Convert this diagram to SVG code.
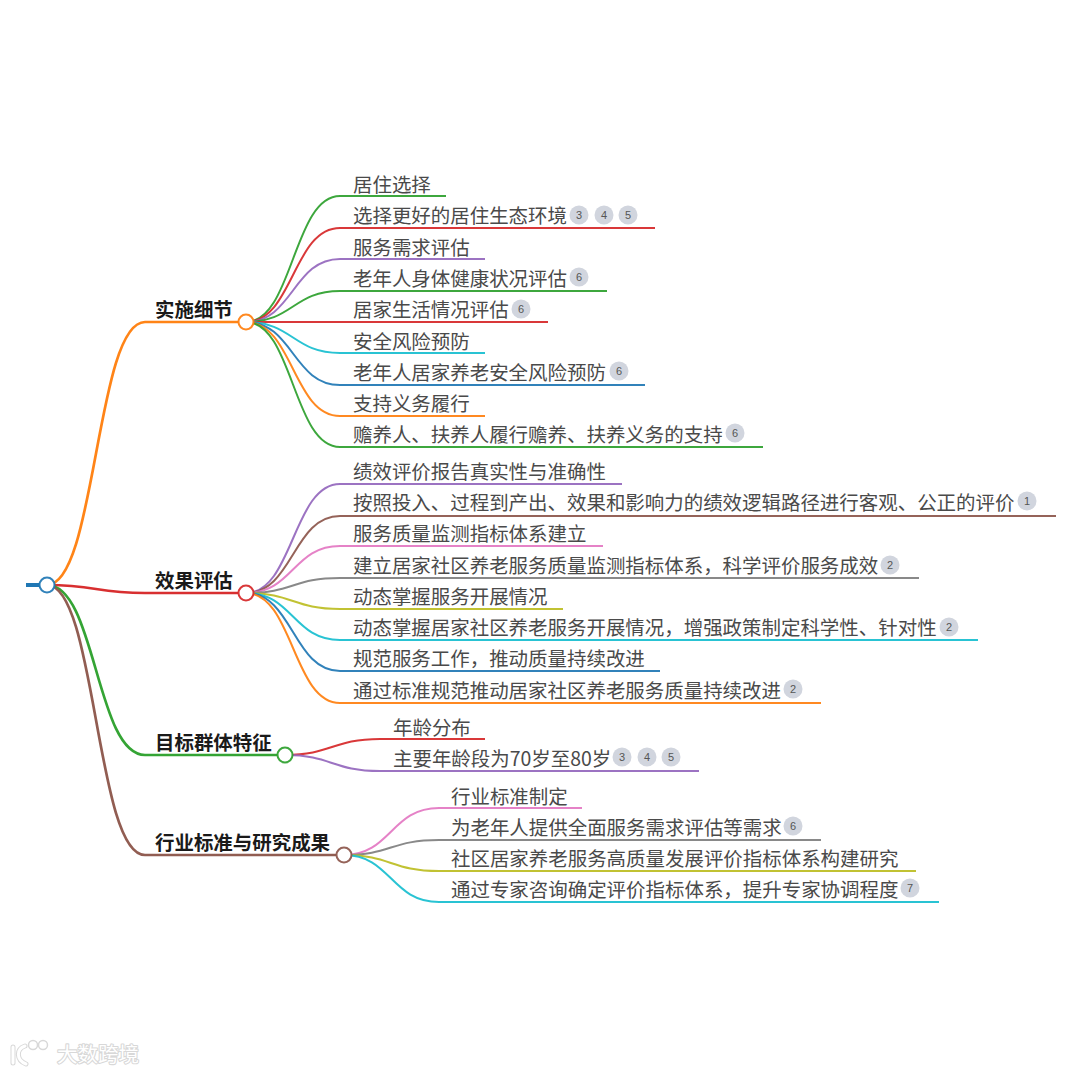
<svg xmlns="http://www.w3.org/2000/svg" width="1080" height="1074" viewBox="0 0 1080 1074">
<style>
text{font-family:"Noto Sans CJK SC","Noto Sans",sans-serif}
.t{font-size:19.47px;fill:#4a4a4a}
.h{font-size:19.47px;font-weight:700;fill:#1a1a1a}
.l{fill:none;stroke-width:2;stroke-opacity:.92}
.m{fill:none;stroke-width:2.7;stroke-opacity:.96}
.n{fill:#fff;stroke-width:2;stroke-opacity:.92}
.b{fill:#d1d5de}
.c{font-size:11px;fill:#555;text-anchor:middle;font-family:"Liberation Sans",sans-serif}
.w{font-size:20.5px;fill:#fff;stroke:#d8d8d8;stroke-width:2.2;paint-order:stroke;stroke-linejoin:round}
.k{fill:none;stroke-linecap:round}
</style>
<rect width="1080" height="1074" fill="#fff"/>
<g id="connectors">
<path class="m" stroke="#ff7f0e" d="M47 585C96 585 96 322 145 322H238"/>
<path class="m" stroke="#d62728" d="M47 585C96 585 96 593 145 593H238"/>
<path class="m" stroke="#2ca02c" d="M47 585C96 585 96 755 145 755H277"/>
<path class="m" stroke="#8c564b" d="M47 585C96 585 96 855 145 855H336"/>
<path d="M26 585H40" stroke="#1f77b4" stroke-width="4" fill="none"/>
<g>
<path class="l" stroke="#2ca02c" d="M246 322C293 322 293 196 340 196H446"/>
<path class="l" stroke="#d62728" d="M246 322C293 322 293 228 340 228H655"/>
<path class="l" stroke="#9467bd" d="M246 322C293 322 293 259 340 259H485"/>
<path class="l" stroke="#2ca02c" d="M246 322C293 322 293 291 340 291H607"/>
<path class="l" stroke="#d62728" d="M246 322H548"/>
<path class="l" stroke="#17becf" d="M246 322C293 322 293 353 340 353H485"/>
<path class="l" stroke="#1f77b4" d="M246 322C293 322 293 385 340 385H645"/>
<path class="l" stroke="#ff7f0e" d="M246 322C293 322 293 416 340 416H485"/>
<path class="l" stroke="#2ca02c" d="M246 322C293 322 293 447 340 447H763"/>
</g>
<g>
<path class="l" stroke="#9467bd" d="M246 593C293 593 293 484 340 484H622"/>
<path class="l" stroke="#8c564b" d="M246 593C293 593 293 516 340 516H1056"/>
<path class="l" stroke="#e377c2" d="M246 593C293 593 293 546 340 546H603"/>
<path class="l" stroke="#7f7f7f" d="M246 593C293 593 293 578 340 578H919"/>
<path class="l" stroke="#bcbd22" d="M246 593C293 593 293 609 340 609H563"/>
<path class="l" stroke="#17becf" d="M246 593C293 593 293 640 340 640H978"/>
<path class="l" stroke="#1f77b4" d="M246 593C293 593 293 671 340 671H660"/>
<path class="l" stroke="#ff7f0e" d="M246 593C293 593 293 703 340 703H821"/>
</g>
<g>
<path class="l" stroke="#d62728" d="M285 755C332 755 332 739 380 739H485"/>
<path class="l" stroke="#9467bd" d="M285 755C332 755 332 771 380 771H699"/>
</g>
<g>
<path class="l" stroke="#e377c2" d="M344 855C391 855 391 808 439 808H582"/>
<path class="l" stroke="#7f7f7f" d="M344 855C391 855 391 840 439 840H821"/>
<path class="l" stroke="#bcbd22" d="M344 855C391 855 391 871 439 871H916"/>
<path class="l" stroke="#17becf" d="M344 855C391 855 391 902 439 902H939"/>
</g>
</g>
<g id="root"><circle class="n" stroke="#1f77b4" cx="47" cy="585" r="7.5"/></g>
<g id="n1"><circle class="n" stroke="#ff7f0e" cx="246" cy="322" r="7.5"/><text class="h" x="155" y="317">实施细节</text></g>
<g id="n2"><circle class="n" stroke="#d62728" cx="246" cy="593" r="7.5"/><text class="h" x="155" y="588">效果评估</text></g>
<g id="n3"><circle class="n" stroke="#2ca02c" cx="285" cy="755" r="7.5"/><text class="h" x="155" y="750">目标群体特征</text></g>
<g id="n4"><circle class="n" stroke="#8c564b" cx="344" cy="855" r="7.5"/><text class="h" x="155" y="850">行业标准与研究成果</text></g>
<g id="n1-1"><text class="t" x="353" y="192">居住选择</text></g>
<g id="n1-2"><text class="t" x="353" y="223">选择更好的居住生态环境</text><circle class="b" cx="579" cy="215" r="9.5"/><text class="c" x="579" y="219">3</text><circle class="b" cx="604" cy="215" r="9.5"/><text class="c" x="604" y="219">4</text><circle class="b" cx="628" cy="215" r="9.5"/><text class="c" x="628" y="219">5</text></g>
<g id="n1-3"><text class="t" x="353" y="255">服务需求评估</text></g>
<g id="n1-4"><text class="t" x="353" y="286">老年人身体健康状况评估</text><circle class="b" cx="579" cy="277" r="9.5"/><text class="c" x="579" y="281">6</text></g>
<g id="n1-5"><text class="t" x="353" y="317">居家生活情况评估</text><circle class="b" cx="521" cy="309" r="9.5"/><text class="c" x="521" y="313">6</text></g>
<g id="n1-6"><text class="t" x="353" y="349">安全风险预防</text></g>
<g id="n1-7"><text class="t" x="353" y="380">老年人居家养老安全风险预防</text><circle class="b" cx="619" cy="371" r="9.5"/><text class="c" x="619" y="375">6</text></g>
<g id="n1-8"><text class="t" x="353" y="411">支持义务履行</text></g>
<g id="n1-9"><text class="t" x="353" y="442">赡养人、扶养人履行赡养、扶养义务的支持</text><circle class="b" cx="735" cy="433" r="9.5"/><text class="c" x="735" y="437">6</text></g>
<g id="n2-1"><text class="t" x="353" y="479">绩效评价报告真实性与准确性</text></g>
<g id="n2-2"><text class="t" x="353" y="510">按照投入、过程到产出、效果和影响力的绩效逻辑路径进行客观、公正的评价</text><circle class="b" cx="1027" cy="501" r="9.5"/><text class="c" x="1027" y="505">1</text></g>
<g id="n2-3"><text class="t" x="353" y="541">服务质量监测指标体系建立</text></g>
<g id="n2-4"><text class="t" x="353" y="573">建立居家社区养老服务质量监测指标体系，科学评价服务成效</text><circle class="b" cx="890" cy="565" r="9.5"/><text class="c" x="890" y="569">2</text></g>
<g id="n2-5"><text class="t" x="353" y="604">动态掌握服务开展情况</text></g>
<g id="n2-6"><text class="t" x="353" y="635">动态掌握居家社区养老服务开展情况，增强政策制定科学性、针对性</text><circle class="b" cx="949" cy="627" r="9.5"/><text class="c" x="949" y="631">2</text></g>
<g id="n2-7"><text class="t" x="353" y="666">规范服务工作，推动质量持续改进</text></g>
<g id="n2-8"><text class="t" x="353" y="698">通过标准规范推动居家社区养老服务质量持续改进</text><circle class="b" cx="793" cy="689" r="9.5"/><text class="c" x="793" y="693">2</text></g>
<g id="n3-1"><text class="t" x="393" y="735">年龄分布</text></g>
<g id="n3-2"><text class="t" x="393" y="766">主要年龄段为70岁至80岁</text><circle class="b" cx="622" cy="757" r="9.5"/><text class="c" x="622" y="761">3</text><circle class="b" cx="647" cy="757" r="9.5"/><text class="c" x="647" y="761">4</text><circle class="b" cx="671" cy="757" r="9.5"/><text class="c" x="671" y="761">5</text></g>
<g id="n4-1"><text class="t" x="451" y="804">行业标准制定</text></g>
<g id="n4-2"><text class="t" x="451" y="835">为老年人提供全面服务需求评估等需求</text><circle class="b" cx="793" cy="826" r="9.5"/><text class="c" x="793" y="830">6</text></g>
<g id="n4-3"><text class="t" x="451" y="866">社区居家养老服务高质量发展评价指标体系构建研究</text></g>
<g id="n4-4"><text class="t" x="451" y="897">通过专家咨询确定评价指标体系，提升专家协调程度</text><circle class="b" cx="910" cy="888" r="9.5"/><text class="c" x="910" y="892">7</text></g>
<g id="watermark"><path class="k" d="M13 1047V1063M25 1046C16 1049 16 1060 26 1064" stroke="#d8d8d8" stroke-width="5"/><path class="k" d="M13 1047V1063M25 1046C16 1049 16 1060 26 1064" stroke="#fff" stroke-width="3"/><circle cx="33" cy="1045" r="4.5" fill="#fff" stroke="#d8d8d8" stroke-width="1.5"/><circle cx="43" cy="1045" r="4.5" fill="#fff" stroke="#d8d8d8" stroke-width="1.5"/><text class="w" x="57" y="1062">大数跨境</text></g>
</svg>
